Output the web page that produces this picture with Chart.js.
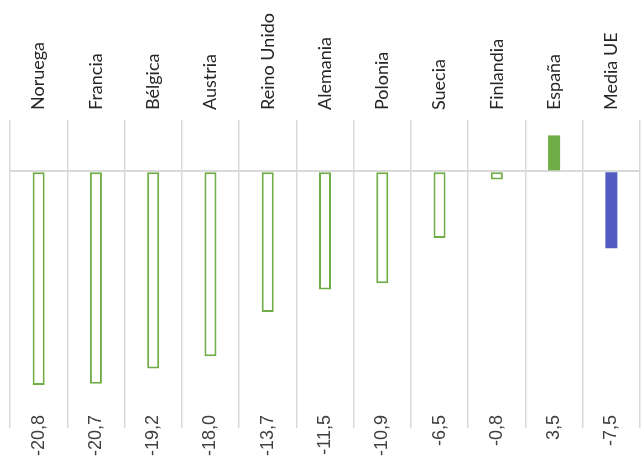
<!DOCTYPE html>
<html><head><meta charset="utf-8">
<script src="https://cdn.jsdelivr.net/npm/chart.js@4/dist/chart.umd.min.js"></script>
<style>html,body{margin:0;padding:0;background:#fff}canvas{display:block}</style>
</head><body>
<canvas id="c" width="644" height="457"></canvas>
<script>
const categories = ["Noruega","Francia","Bélgica","Austria","Reino Unido","Alemania","Polonia","Suecia","Finlandia","España","Media UE"];
const values = [-20.8,-20.7,-19.2,-18.0,-13.7,-11.5,-10.9,-6.5,-0.8,3.5,-7.5];
const valueLabels = ["-20,8","-20,7","-19,2","-18,0","-13,7","-11,5","-10,9","-6,5","-0,8","3,5","-7,5"];

const GREEN = '#70ad47', BLUE = '#535cc3', GRID = '#d9d9d9';
function fillFor(ctx){
  const c = categories[ctx.dataIndex];
  if (c === 'Media UE') return BLUE;
  if (c === 'España') return GREEN;
  return '#ffffff';
}
function borderFor(ctx){
  const c = categories[ctx.dataIndex];
  return c === 'Media UE' ? BLUE : GREEN;
}
function borderW(ctx){
  const c = categories[ctx.dataIndex];
  return (c === 'Media UE' || c === 'España') ? 0 : 2;
}

const labelPlugin = {
  id: 'labels',
  afterDraw(chart){
    const ctx = chart.ctx, xs = chart.scales.x;
    ctx.save();
    ctx.textBaseline = 'middle';
    // category labels (top)
    ctx.font = '18px Lato, sans-serif';
    ctx.fillStyle = '#262626';
    ctx.textAlign = 'left';
    categories.forEach((t,i)=>{
      const x = xs.getPixelForValue(i);
      ctx.save();
      ctx.translate(x, 110);
      ctx.rotate(-Math.PI/2);
      ctx.fillText(t, 0, 0);
      ctx.restore();
    });
    // value labels (bottom)
    ctx.font = '18px "Liberation Sans", Arial, sans-serif';
    ctx.fillStyle = '#404040';
    ctx.textAlign = 'right';
    valueLabels.forEach((t,i)=>{
      const x = xs.getPixelForValue(i);
      ctx.save();
      ctx.translate(x, 415);
      ctx.rotate(-Math.PI/2);
      ctx.fillText(t, 0, 0);
      ctx.restore();
    });
    ctx.restore();
  }
};

new Chart(document.getElementById('c'), {
  type: 'bar',
  data: {
    labels: categories,
    datasets: [{
      data: values,
      backgroundColor: fillFor,
      borderColor: borderFor,
      borderWidth: borderW,
      borderSkipped: false,
      barPercentage: 0.21,
      categoryPercentage: 1
    }]
  },
  options: {
    responsive: false,
    animation: false,
    layout: { padding: { top: 0, left: 10, right: 4, bottom: 29 } },
    plugins: { legend: { display: false }, tooltip: { enabled: false } },
    scales: {
      x: {
        position: 'top',
        grid: { color: GRID, lineWidth: 1.5, drawTicks: false, offset: true },
        border: { display: false },
        ticks: { display: false },
        afterFit(s){ s.height = 120; }
      },
      y: {
        min: -25, max: 5,
        ticks: { display: false },
        border: { display: false },
        grid: {
          drawTicks: false,
          color: c => c.tick && c.tick.value === 0 ? GRID : 'rgba(0,0,0,0)',
          lineWidth: 2
        },
        afterFit(s){ s.width = 0; }
      }
    }
  },
  plugins: [labelPlugin]
});
</script>
</body></html>
